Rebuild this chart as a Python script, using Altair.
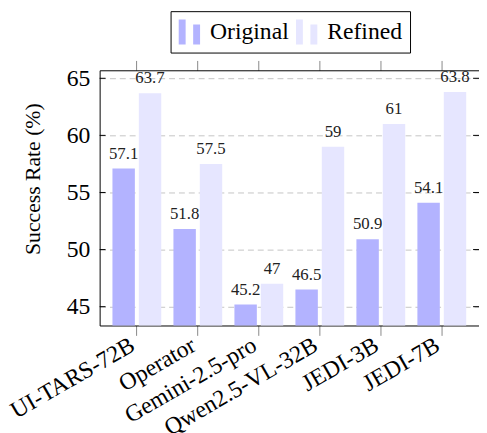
import altair as alt
import pandas as pd

models = ["UI-TARS-72B", "Operator", "Gemini-2.5-pro", "Qwen2.5-VL-32B", "JEDI-3B", "JEDI-7B"]
original = [57.1, 51.8, 45.2, 46.5, 50.9, 54.1]
refined = [63.7, 57.5, 47.0, 59.0, 61.0, 63.8]
settings = ["Original", "Refined"]
colors = ["#b3b3ff", "#e6e6ff"]
y_ticks = [45, 50, 55, 60, 65]

rows = []
for m, o, r in zip(models, original, refined):
    rows.append({"Model": m, "Setting": "Original", "Rate": o, "Label": f"{o:g}"})
    rows.append({"Model": m, "Setting": "Refined", "Rate": r, "Label": f"{r:g}"})
df = pd.DataFrame(rows)
ticks_df = pd.DataFrame({"Rate": y_ticks})

FONT = "Liberation Serif, Times New Roman, serif"
W, H = 385, 259

yscale = alt.Scale(domain=[43.35, 65.7], nice=False, zero=False)
xscale = alt.Scale(paddingInner=0.2, paddingOuter=0.21)

y_enc = alt.Y(
    "Rate:Q",
    scale=yscale,
    axis=alt.Axis(
        values=y_ticks,
        title="Success Rate (%)",
        titleFont=FONT,
        titleFontSize=22,
        titleFontWeight="normal",
        titleColor="black",
        titleX=-56,
        titleY=110,
        labelFont=FONT,
        labelFontSize=24,
        labelColor="black",
        labelPadding=10,
        ticks=False,
        domain=True,
        domainColor="black",
        grid=True,
        gridDash=[6, 4],
        gridColor="#c4c4c4",
    ),
)

x_bottom = alt.X(
    "Model:N",
    sort=models,
    scale=xscale,
    title=None,
    axis=alt.Axis(
        orient="bottom",
        labelAngle=-30,
        labelAlign="right",
        labelBaseline="middle",
        labelFont=FONT,
        labelFontSize=24,
        labelColor="black",
        labelPadding=8,
        labelOffset=-4,
        labelOverlap=False,
        tickSize=10,
        tickColor="#888888",
        domainColor="black",
        grid=False,
    ),
)
x_offset = alt.XOffset("Setting:N", sort=settings, scale=alt.Scale(paddingInner=0.15))

bars = alt.Chart(df).mark_bar(clip=True).encode(
    x=x_bottom,
    xOffset=x_offset,
    y=y_enc,
    color=alt.Color(
        "Setting:N",
        scale=alt.Scale(domain=settings, range=colors),
        legend=alt.Legend(
            title=None,
            orient="none",
            legendX=72,
            legendY=-60,
            direction="horizontal",
            symbolType="M-1,-1H-0.45V1H-1Z M0.15,-0.6H0.7V1H0.15Z",
            symbolSize=650,
            symbolStrokeWidth=0,
            symbolOpacity=1,
            labelFont=FONT,
            labelFontSize=24,
            labelColor="black",
            labelOffset=6,
            columnPadding=7,
            padding=8,
            strokeColor="black",
            fillColor="white",
        ),
    ),
)

labels = alt.Chart(df).mark_text(
    baseline="bottom", dy=-6, font=FONT, fontSize=17, color="#222222"
).encode(
    x=alt.X("Model:N", sort=models, scale=xscale, axis=None),
    xOffset=x_offset,
    y=y_enc,
    text="Label:N",
)

left_ticks = alt.Chart(ticks_df).mark_rule(color="black", strokeWidth=1).encode(
    y=y_enc, x=alt.value(0), x2=alt.value(6)
)
right_ticks = alt.Chart(ticks_df).mark_rule(color="black", strokeWidth=1).encode(
    y=y_enc, x=alt.value(W - 6), x2=alt.value(W)
)

top_axis = alt.Chart(df).mark_point(opacity=0).encode(
    x=alt.X(
        "Model:N",
        sort=models,
        scale=xscale,
        title=None,
        axis=alt.Axis(
            orient="top",
            labels=False,
            tickSize=10,
            tickColor="#888888",
            domainColor="black",
            grid=False,
        ),
    ),
    y=y_enc,
)

chart = (
    alt.layer(bars, labels, left_ticks, right_ticks, top_axis)
    .resolve_axis(x="independent")
    .properties(
        width=W,
        height=H,
        autosize=alt.AutoSizeParams(type="none"),
        padding={"left": 93, "top": 60, "right": 0, "bottom": 115},
    )
    .configure(font=FONT)
    .configure_view(stroke=None)
    .configure_axis(domainWidth=1, labelFont=FONT, titleFont=FONT)
    .configure_legend(labelFont=FONT, titleFont=FONT)
    .configure_text(font=FONT)
)

chart.save("out.html", embed_options={"renderer": "svg", "actions": False})
